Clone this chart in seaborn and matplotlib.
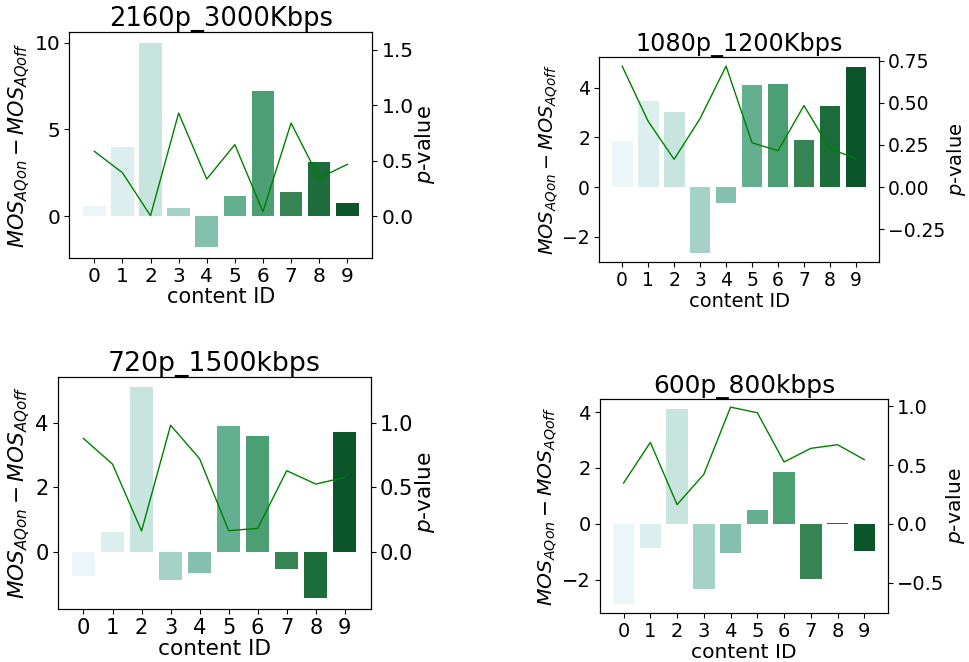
import numpy as np
import pandas as pd
import matplotlib
matplotlib.use("Agg")
import matplotlib.pyplot as plt
from matplotlib.ticker import MultipleLocator
import seaborn as sns

# content IDs shared by all four panels
content_ids = [str(i) for i in range(10)]

titles = ["2160p_3000Kbps", "1080p_1200Kbps", "720p_1500kbps", "600p_800kbps"]

# MOS(AQ on) - MOS(AQ off) per content
mos_diff_2160 = [0.58, 3.97, 10.0, 0.50, -1.79, 1.15, 7.20, 1.40, 3.11, 0.75]
mos_diff_1080 = [1.85, 3.47, 3.03, -2.65, -0.65, 4.10, 4.14, 1.89, 3.26, 4.85]
mos_diff_720 = [-0.77, 0.62, 5.12, -0.87, -0.67, 3.92, 3.61, -0.53, -1.45, 3.73]
mos_diff_600 = [-2.85, -0.86, 4.11, -2.32, -1.03, 0.49, 1.84, -1.96, 0.02, -0.96]

# p-values of the paired test per content
p_2160 = [0.586, 0.393, 0.006, 0.93, 0.336, 0.646, 0.042, 0.84, 0.345, 0.468]
p_1080 = [0.718, 0.391, 0.165, 0.407, 0.718, 0.263, 0.216, 0.484, 0.226, 0.171]
p_720 = [0.881, 0.681, 0.161, 0.984, 0.723, 0.163, 0.181, 0.630, 0.526, 0.578]
p_600 = [0.348, 0.694, 0.164, 0.422, 0.994, 0.946, 0.527, 0.643, 0.674, 0.547]

mos_diffs = [mos_diff_2160, mos_diff_1080, mos_diff_720, mos_diff_600]
p_values = [p_2160, p_1080, p_720, p_600]

# panel layout (fig fraction), font scale, right/left axis ratio
positions = [
    [0.0715, 0.6107, 0.3127, 0.3405],
    [0.6182, 0.6038, 0.2890, 0.3097],
    [0.0595, 0.0805, 0.3230, 0.3505],
    [0.6190, 0.0736, 0.2975, 0.3233],
]
font_scale = [1.0, 0.93, 1.04, 0.97]
right_ratio = [0.1565, 0.1475, 0.25, 0.238]

palette = sns.color_palette("BuGn", 10)

fig = plt.figure(figsize=(9.69, 6.62), dpi=100)

for i in range(4):
    fs = font_scale[i]
    ax = fig.add_axes(positions[i])
    df = pd.DataFrame({"content": content_ids, "diff": mos_diffs[i]})
    sns.barplot(data=df, x="content", y="diff", hue="content",
                palette=palette, legend=False, width=0.8, ax=ax)

    ax2 = ax.twinx()
    sns.lineplot(x=np.arange(10), y=p_values[i], color="green",
                 linewidth=1, ax=ax2)
    ax2.set_ylim(np.array(ax.get_ylim()) * right_ratio[i])
    ax.set_xlim(-0.89, 9.89)
    if i == 0:
        ax.yaxis.set_major_locator(MultipleLocator(5))

    ax.set_title(titles[i], fontsize=18.5 * fs, pad=4)
    ax.set_xlabel("content ID", fontsize=15 * fs, labelpad=1)
    ax.set_ylabel(r"$MOS_{AQon}-MOS_{AQoff}$", fontsize=15 * fs, labelpad=2)
    ax2.set_ylabel(r"$p$-value", fontsize=15 * fs, labelpad=0)
    ax.tick_params(labelsize=14.5 * fs, pad=3)
    ax2.tick_params(labelsize=14.5 * fs, pad=3)

fig.savefig("out.png", dpi=100)
